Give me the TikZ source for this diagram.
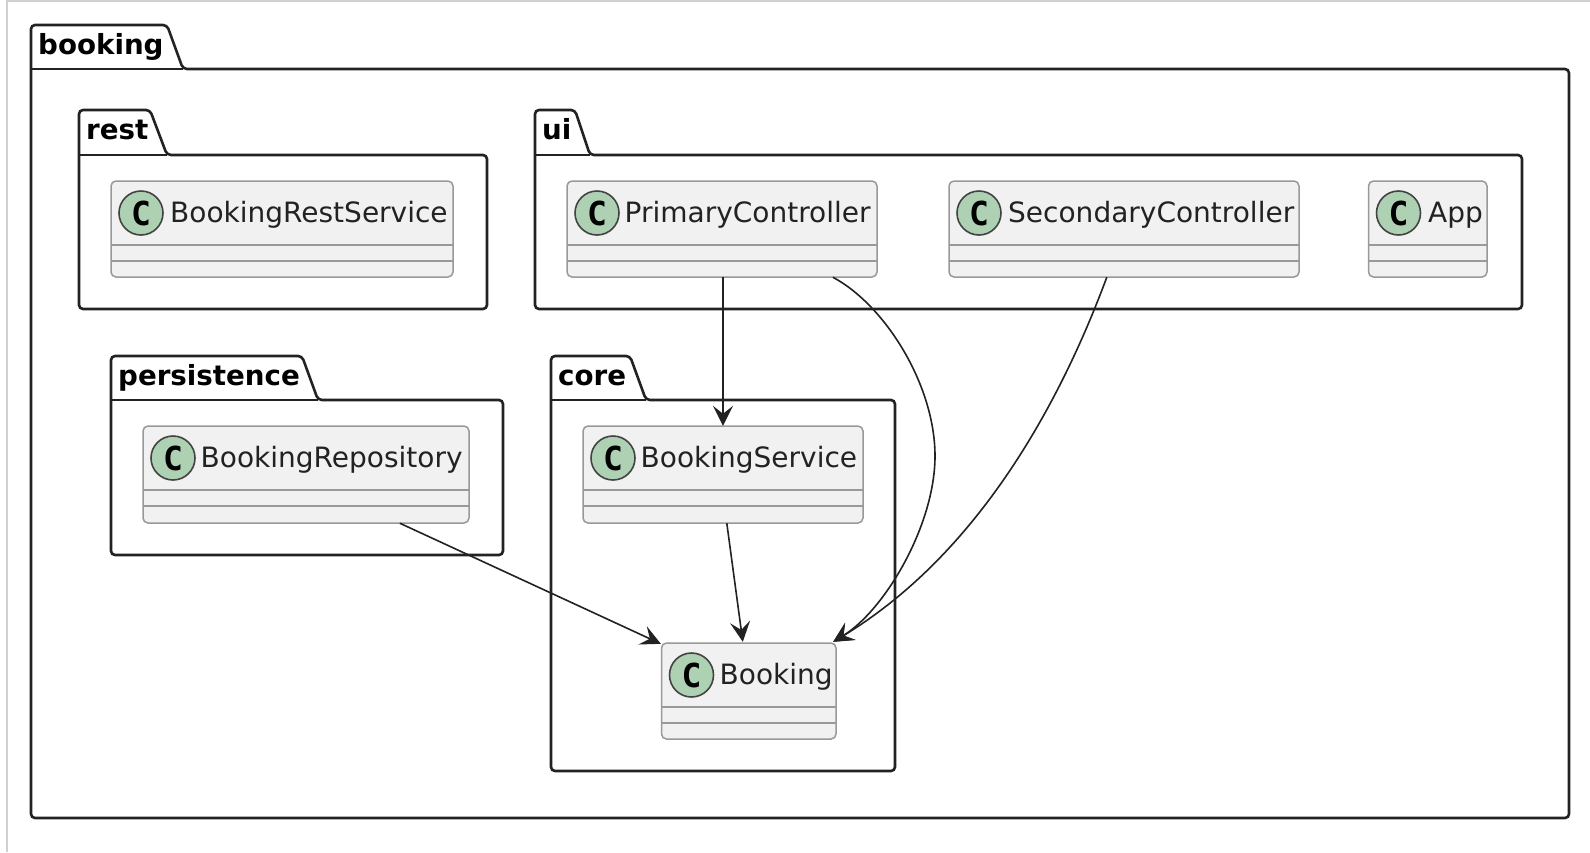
\documentclass[tikz,border=0pt]{standalone}
\usepackage{fontspec}
\setmainfont{DejaVu Sans}
\newfontfamily\spotfont{DejaVu Sans Mono}
\usetikzlibrary{arrows.meta,calc}
\definecolor{ink}{HTML}{222222}
\definecolor{clsline}{HTML}{999999}
\definecolor{clsfill}{HTML}{F1F1F1}
\definecolor{spot}{HTML}{ADD1B2}
\definecolor{frameline}{HTML}{D0D0D0}
\tikzset{
  x=1pt,y=-1pt,
  pkgline/.style={draw=ink,line width=2.6pt,rounded corners=4pt,fill=white},
  pkglabel/.style={anchor=base west,inner sep=0pt,font=\fontsize{27.7}{32}\selectfont\bfseries,text=black},
  clsbox/.style={draw=clsline,line width=1.5pt,fill=clsfill,rounded corners=5pt},
  clsdiv/.style={draw=clsline,line width=1.5pt},
  clslabel/.style={anchor=base west,inner sep=0pt,font=\fontsize{28}{32}\selectfont,text=ink},
  spotnode/.style={circle,draw=ink!85,line width=1.6pt,fill=spot,minimum size=44pt,inner sep=0pt,font=\spotfont\fontsize{33}{33}\selectfont\bfseries,text=black},
  dep/.style={draw=ink,line width=1.6pt,-{Stealth[length=20pt,width=20pt,inset=8pt]}},
  pagerule/.style={draw=frameline,line width=2pt},
}
\newcommand{\pkg}[9]{%
  \path[pkgline] (#2,#8) -- (#2,#3) -- (#6,#3) -- (#7,#8) -- (#4,#8) -- (#4,#5) -- (#2,#5) -- cycle;
  \draw[ink,line width=2pt] (#2,#8) -- (#7,#8);
  \node[pkglabel] (#1) at (#2+7,#3+29.5) {#9};
}
\newcommand{\cls}[7]{%
  \path[clsbox] (#2,#3) rectangle (#4,#5);
  \node[inner sep=0pt,minimum width=#4pt-#2pt,minimum height=#5pt-#3pt] (#1) at ({(#2+#4)/2},{(#3+#5)/2}) {};
  \draw[clsdiv] (#2,#3+64) -- (#4,#3+64);
  \draw[clsdiv] (#2,#3+80) -- (#4,#3+80);
  \node[spotnode] (#1spot) at (#2+30,#3+32) {C};
  \node[clslabel] (#1text) at (#2+#7,#3+41.3) {#6};
}
\begin{document}
\begin{tikzpicture}
\useasboundingbox (0,0) rectangle (1590,852);
\fill[white] (0,0) rectangle (1590,852);
\draw[pagerule] (7,852) -- (7,1) -- (1590,1);
\pkg{booking}{31}{25}{1569}{818}{167}{183}{69}{booking}
\pkg{rest}{79}{110}{487}{309}{150}{167}{155}{rest}
\pkg{ui}{535}{110}{1522}{309}{575}{590}{155}{ui}
\pkg{persistence}{111}{356}{503}{555}{302}{318}{400}{persistence}
\pkg{core}{551}{356}{895}{771}{630}{646}{400}{core}
\cls{restsvc}{111}{181}{453}{277}{BookingRestService}{59}
\cls{primary}{567}{181}{877}{277}{PrimaryController}{57.5}
\cls{secondary}{949}{181}{1299}{277}{SecondaryController}{59}
\cls{app}{1368.5}{181}{1487}{277}{App}{59.5}
\cls{repo}{143}{426}{469}{523}{BookingRepository}{57.5}
\cls{service}{583}{426}{863}{523}{BookingService}{57.5}
\cls{bookingcls}{661.5}{643}{836}{739}{Booking}{58}
\coordinate (ps) at ($(primary.south)+(1,0)$);
\coordinate (pe) at ($(primary.south west)+(266,0)$);
\coordinate (se) at ($(secondary.south west)+(158,0)$);
\coordinate (re) at ($(repo.south west)+(257,0)$);
\coordinate (be) at ($(service.south west)+(144,0)$);
\coordinate (bin) at ($(bookingcls.north west)+(81.5,-1)$);
\coordinate (bl) at ($(bookingcls.north west)+(-0.5,1)$);
\coordinate (br) at ($(bookingcls.north east)+(-3,-1)$);
\draw[dep] (ps) -- (service.north);
\draw[dep] (be) -- (bin);
\draw[dep] (re) -- (bl);
\draw[dep] (pe) .. controls (885,305) and (935,385) .. (935,456) .. controls (935,525) and (885,610) .. (br);
\draw[dep] (se) .. controls (1065,390) and (985,550) .. (br);
\end{tikzpicture}
\end{document}
